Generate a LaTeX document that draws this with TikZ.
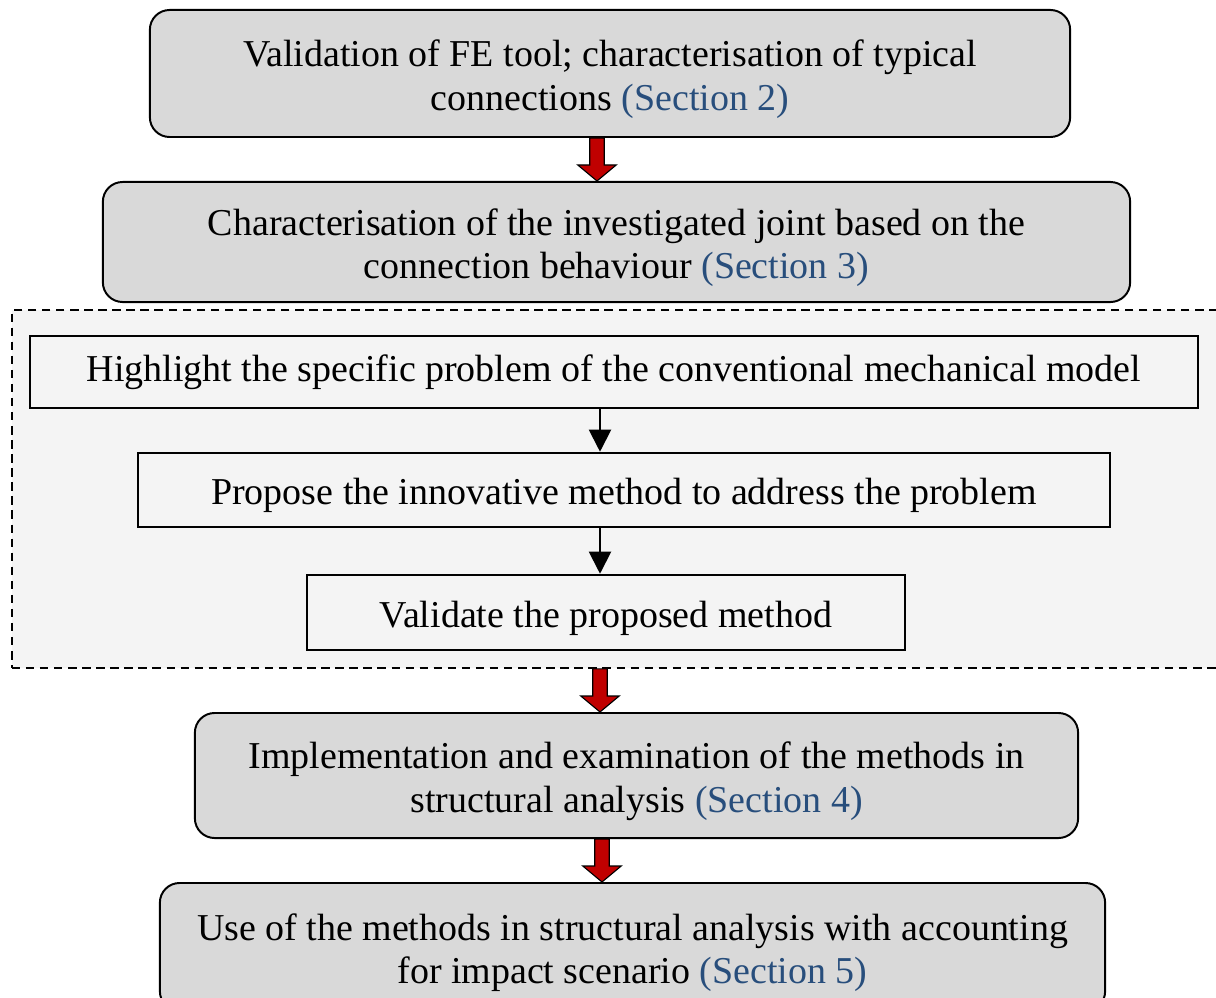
\documentclass[tikz,border=0pt]{standalone}
\usepackage{fontspec}
\setmainfont{Liberation Serif}
\usetikzlibrary{arrows.meta, positioning, calc, backgrounds}
\definecolor{secblue}{HTML}{284E7C}
\definecolor{boxgray}{HTML}{D9D9D9}
\definecolor{areagray}{HTML}{F4F4F4}
\definecolor{arrred}{HTML}{C00000}
\newcommand{\firstline}{\rule{0pt}{27pt}}

\begin{document}
\begin{tikzpicture}[x=0.025cm, y=-0.025cm,
    stage/.style={draw, rounded corners=14pt, fill=boxgray, line width=1.4pt,
                  align=center, font=\fontsize{27}{31}\selectfont, inner sep=0pt},
    task/.style={draw, line width=1.8pt, align=center,
                 font=\fontsize{27}{31}\selectfont, inner sep=0pt},
    redarr/.style={draw=black, fill=arrred, line width=0.8pt, line join=miter},
    blkarr/.style={-{Triangle[length=0.55cm, width=0.55cm]}, line width=1.4pt},
]
    \useasboundingbox (0,0) rectangle (1216,998);

    % Stages
    \node[stage, minimum width=23cm, minimum height=3.175cm] (valid) at (610, 73.5)
        {\firstline Validation of FE tool; characterisation of typical\\connections \textcolor{secblue}{(Section 2)}};
    \node[stage, minimum width=25.675cm, minimum height=3cm] (joint) at (616.5, 242)
        {\firstline Characterisation of the investigated joint based on the\\connection behaviour \textcolor{secblue}{(Section 3)}};

    % Dashed area with the three tasks
    \node[draw, dashed, line width=1.2pt, dash pattern=on 6pt off 4pt, fill=areagray,
          minimum width=30.45cm, minimum height=8.95cm, inner sep=0pt] (area) at (621, 489) {};
    \node[task, minimum width=29.2cm, minimum height=1.8cm] (problem) at (614, 372)
        {Highlight the specific problem of the conventional mechanical model};
    \node[task, minimum width=24.3cm, minimum height=1.85cm] (propose) at (624, 490)
        {\firstline Propose the innovative method to address the problem};
    \node[task, minimum width=14.95cm, minimum height=1.875cm] (check) at (606, 612.5)
        {\firstline Validate the proposed method};

    \node[stage, minimum width=22.075cm, minimum height=3.125cm] (implement) at (636.5, 775.5)
        {\firstline Implementation and examination of the methods in\\structural analysis \textcolor{secblue}{(Section 4)}};
    \node[stage, minimum width=23.625cm, minimum height=3.2cm] (impact) at (632.5, 947)
        {\firstline Use of the methods in structural analysis with accounting\\for impact scenario \textcolor{secblue}{(Section 5)}};

    % Arrow columns
    \coordinate (c1) at (597, 0);
    \coordinate (c2) at (600, 0);
    \coordinate (c3) at (602, 0);

    % Black arrows
    \draw[blkarr] (problem.south -| c2) -- (propose.north -| c2);
    \draw[blkarr] (propose.south -| c2) -- (check.north -| c2);

    % Red arrows
    \foreach \a/\b/\c in {valid/joint/c1, area/implement/c2, implement/impact/c3}{
        \draw[redarr] let \p1=(\a.south -| \c), \p2=(\b.north -| \c) in
            (\x1-0.18cm,\y1) -- (\x1-0.18cm,\y2+0.4cm) -- (\x1-0.48cm,\y2+0.4cm)
            -- (\x2,\y2) -- (\x1+0.48cm,\y2+0.4cm) -- (\x1+0.18cm,\y2+0.4cm)
            -- (\x1+0.18cm,\y1) -- cycle;
    }
\end{tikzpicture}
\end{document}
